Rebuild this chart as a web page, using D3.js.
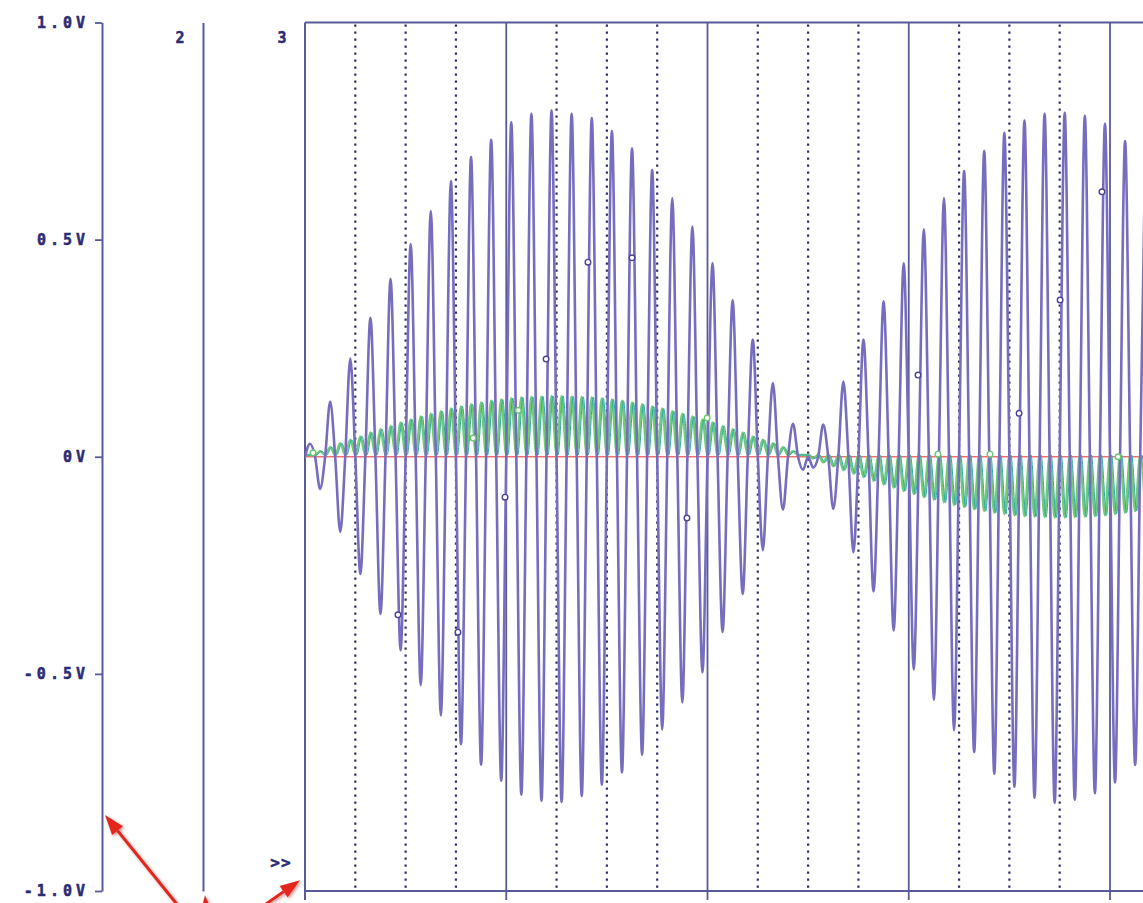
<!DOCTYPE html>
<html><head><meta charset="utf-8">
<script src="https://cdn.jsdelivr.net/npm/d3@7"></script>
<style>body{margin:0;background:#fff}svg{display:block}</style>
</head><body>
<script>
// ---- data (time in µs, voltage in V) ----
const voltTicks = [1, 0.5, 0, -0.5, -1];
const voltLabels = ["1.0V", "0.5V", "0V", "-0.5V", "-1.0V"];
const majorT = [100, 200, 300, 400];
const minorT = [25, 50, 75, 125, 150, 175, 225, 250, 275, 325, 350, 375];

// carrier zero crossings and extrema
const crossT = [0,5,10,15,20,25,30,35,40,45,50,55,60,65,70,75,80,85,90,95,
  100,105,110,115,120,125,130,135,140,145,150,155,160,165,170,175,180,185,190,195,
  200,205,210,215,220,225,230,235,240,245,250,255,260,265,270,275,280,285,290,295,
  300,305,310,315,320,325,330,335,340,345,350,355,360,365,370,375,380,385,390,395,
  400,405,410,415];
const sampleT = [2.5,7.5,12.5,17.5,22.5,27.5,32.5,37.5,42.5,47.5,
  52.5,57.5,62.5,67.5,72.5,77.5,82.5,87.5,92.5,97.5,
  102.5,107.5,112.5,117.5,122.5,127.5,132.5,137.5,142.5,147.5,
  152.5,157.5,162.5,167.5,172.5,177.5,182.5,187.5,192.5,197.5,
  202.5,207.5,212.5,217.5,222.5,227.5,232.5,237.5,242.5,247.5,
  252.5,257.5,262.5,267.5,272.5,277.5,282.5,287.5,292.5,297.5,
  302.5,307.5,312.5,317.5,322.5,327.5,332.5,337.5,342.5,347.5,
  352.5,357.5,362.5,367.5,372.5,377.5,382.5,387.5,392.5,397.5,
  402.5,407.5,412.5,417.5];
const purpleCrossV = 0;
const purpleV = [0.03,-0.074,0.127,-0.173,0.226,-0.27,0.32,-0.362,0.41,-0.446,
  0.49,-0.526,0.566,-0.596,0.635,-0.662,0.69,-0.709,0.73,-0.746,
  0.77,-0.778,0.79,-0.792,0.797,-0.795,0.79,-0.781,0.78,-0.755,
  0.75,-0.727,0.71,-0.686,0.66,-0.628,0.596,-0.566,0.53,-0.497,
  0.446,-0.404,0.36,-0.316,0.27,-0.215,0.17,-0.122,0.076,-0.03,
  -0.025,0.074,-0.12,0.173,-0.22,0.27,-0.31,0.358,-0.40,0.446,
  -0.49,0.524,-0.56,0.596,-0.63,0.658,-0.68,0.704,-0.73,0.746,
  -0.76,0.774,-0.785,0.79,-0.797,0.792,-0.79,0.785,-0.775,0.767,
  -0.75,0.727,-0.71,0.69];
const greenFloorV = 0.004;
const greenHighV = [0.004,0.013,0.022,0.031,0.039,0.047,0.056,0.064,0.071,0.079,
  0.086,0.093,0.099,0.105,0.111,0.116,0.121,0.125,0.129,0.132,
  0.135,0.137,0.138,0.139,0.14,0.14,0.139,0.138,0.137,0.135,
  0.132,0.129,0.125,0.121,0.116,0.111,0.105,0.099,0.093,0.086,
  0.079,0.071,0.064,0.056,0.047,0.039,0.031,0.022,0.013,0.004,
  -0.004,-0.013,-0.022,-0.031,-0.039,-0.047,-0.056,-0.064,-0.071,-0.079,
  -0.086,-0.093,-0.099,-0.105,-0.111,-0.116,-0.121,-0.125,-0.129,-0.132,
  -0.135,-0.137,-0.138,-0.139,-0.14,-0.14,-0.139,-0.138,-0.137,-0.135,
  -0.132,-0.129,-0.125,-0.121];
const purpleMarkers = [[46.2,-0.364],[76,-0.404],[99.4,-0.093],[119.8,0.225],[140.6,0.448],
  [162.5,0.458],[189.8,-0.141],[304.6,0.188],[354.8,0.10],[375.2,0.361],[396,0.61]];
const greenMarkers = [[4,0.009],[83.5,0.043],[106,0.107],[199.8,0.089],[314.5,0.006],[340.4,0.006],[404,0.0]];
const arrowTargets = [{axis: 1, v: -0.825}, {axis: 2, v: -1.01}, {axis: 3, v: -0.975}];

// ---- layout ----
const W = 1143, H = 903;
const axis1X = 102, axis2X = 203;
const y = d3.scaleLinear().domain([-1, 1]).range([891, 22.5]);
const x = d3.scaleLinear().domain([0, 400]).range([305, 1110]);
const axisCol = "#5a5a98", textCol = "#2c2c74", font = "'DejaVu Sans Mono', monospace";

const svg = d3.select("body").append("svg").attr("width", W).attr("height", H);
const defs = svg.append("defs");
defs.append("clipPath").attr("id", "plotclip").append("rect")
  .attr("x", x(0)).attr("y", 0).attr("width", W - x(0)).attr("height", H);
const f = defs.append("filter").attr("id", "shadow").attr("x", "-50%").attr("y", "-50%").attr("width", "200%").attr("height", "200%");
f.append("feDropShadow").attr("dx", 1.5).attr("dy", 1.5).attr("stdDeviation", 1.5).attr("flood-color", "#900").attr("flood-opacity", 0.45);

// axis 1 with tick labels
const ax1 = svg.append("g").attr("transform", `translate(${axis1X},0)`)
  .call(d3.axisLeft(y).tickValues(voltTicks).tickFormat((d, i) => voltLabels[i]).tickSize(7).tickSizeOuter(0).tickPadding(6));
ax1.select(".domain").attr("stroke", axisCol).attr("stroke-width", 2);
ax1.selectAll(".tick line").attr("stroke", axisCol).attr("stroke-width", 1.8);
ax1.selectAll(".tick text").attr("fill", textCol).attr("font-family", font).attr("font-weight", "bold")
  .attr("font-size", 15).attr("letter-spacing", 4).attr("stroke", textCol).attr("stroke-width", 0.5);

// axis 2
const ax2 = svg.append("g").attr("transform", `translate(${axis2X},0)`)
  .call(d3.axisLeft(y).tickValues([]).tickSizeOuter(0));
ax2.select(".domain").attr("stroke", axisCol).attr("stroke-width", 2);

// labels
const lab = svg.append("g").attr("fill", textCol).attr("font-family", font).attr("font-weight", "bold")
  .attr("font-size", 15).attr("text-anchor", "middle").attr("stroke", textCol).attr("stroke-width", 0.5);
lab.append("text").attr("x", 180).attr("y", 43).text("2");
lab.append("text").attr("x", 282).attr("y", 43).text("3");
lab.append("text").attr("x", 281).attr("y", 868).attr("font-size", 16).attr("letter-spacing", 1).text(">>");

// plot frame and grid
const gridBottom = y(-1) + 9;
const frame = svg.append("g").attr("stroke", axisCol).attr("stroke-width", 2).attr("fill", "none");
frame.append("line").attr("x1", x(0)).attr("x2", x(0)).attr("y1", y(1)).attr("y2", gridBottom);
frame.append("line").attr("x1", x(0)).attr("x2", W).attr("y1", y(1)).attr("y2", y(1));
frame.append("line").attr("x1", x(0)).attr("x2", W).attr("y1", y(-1)).attr("y2", y(-1));
frame.selectAll(".major").data(majorT).join("line").attr("class", "major")
  .attr("x1", d => x(d)).attr("x2", d => x(d)).attr("y1", y(1)).attr("y2", gridBottom).attr("stroke-width", 1.8);
svg.append("g").selectAll("line").data(minorT).join("line")
  .attr("x1", d => x(d)).attr("x2", d => x(d)).attr("y1", y(1) + 2).attr("y2", y(-1))
  .attr("stroke", "#2e2e68").attr("stroke-width", 2.2).attr("stroke-dasharray", "2.2 4.8");

// traces
const plot = svg.append("g").attr("clip-path", "url(#plotclip)");
const line = d3.line().x(d => x(d[0])).y(d => y(d[1])).curve(d3.curveMonotoneX);
const purplePts = [], greenPts = [];
crossT.forEach((t, i) => {
  purplePts.push([t, purpleCrossV], [sampleT[i], purpleV[i]]);
  greenPts.push([t, greenFloorV], [sampleT[i], greenHighV[i]]);
});
plot.append("line").attr("x1", x(0)).attr("x2", W).attr("y1", y(0)).attr("y2", y(0))
  .attr("stroke", "#f07070").attr("stroke-width", 1.6);
plot.append("path").datum(greenPts).attr("d", line).attr("fill", "none")
  .attr("stroke", "#72cc74").attr("stroke-width", 2.4);
plot.append("path").datum(greenPts).attr("d", line).attr("fill", "none")
  .attr("stroke", "#33a8a4").attr("stroke-width", 1).attr("transform", "translate(1.5,0)");
plot.append("path").datum(purplePts).attr("d", line).attr("fill", "none")
  .attr("stroke", "#776dbf").attr("stroke-width", 2.6);
plot.selectAll(".pm").data(purpleMarkers).join("circle").attr("class", "pm")
  .attr("cx", d => x(d[0])).attr("cy", d => y(d[1])).attr("r", 2.8)
  .attr("fill", "#fff").attr("stroke", "#4c4296").attr("stroke-width", 1.4);
plot.selectAll(".gm").data(greenMarkers).join("circle").attr("class", "gm")
  .attr("cx", d => x(d[0])).attr("cy", d => y(d[1])).attr("r", 2.8)
  .attr("fill", "#fff").attr("stroke", "#6cc870").attr("stroke-width", 1.4);

// red annotation arrows
const origin = [209, 944];
const axisXs = {1: axis1X + 3, 2: axis2X + 2, 3: x(0) - 5};
const ag = svg.append("g").attr("filter", "url(#shadow)");
arrowTargets.forEach(a => {
  const tx = axisXs[a.axis], ty = y(a.v);
  const ang = Math.atan2(ty - origin[1], tx - origin[0]);
  const hl = 20, hw = 7;
  const bx = tx - hl * Math.cos(ang), by = ty - hl * Math.sin(ang);
  ag.append("line").attr("x1", origin[0]).attr("y1", origin[1]).attr("x2", bx).attr("y2", by)
    .attr("stroke", "#e2261d").attr("stroke-width", 3);
  const px = -Math.sin(ang) * hw, py = Math.cos(ang) * hw;
  ag.append("path").attr("d", `M${tx},${ty}L${bx + px},${by + py}L${bx - px},${by - py}Z`).attr("fill", "#e2261d");
});
</script>
</body></html>
